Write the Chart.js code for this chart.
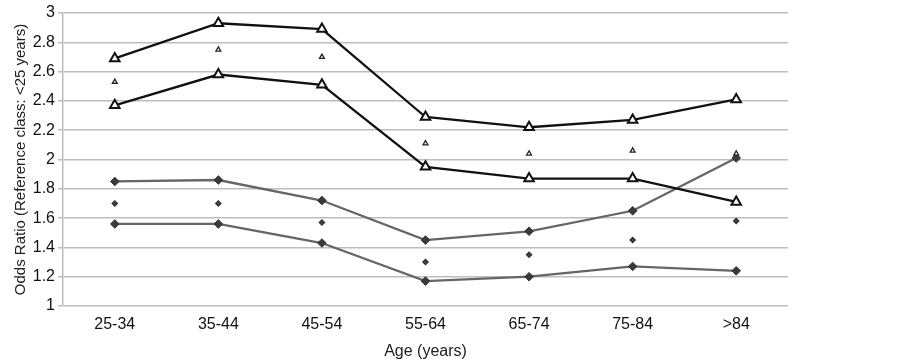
<!DOCTYPE html>
<html>
<head>
<meta charset="utf-8">
<script src="https://cdn.jsdelivr.net/npm/chart.js@4/dist/chart.umd.min.js"></script>
<style>
  html, body { margin: 0; padding: 0; background: #fff; }
  #wrap { width: 902px; height: 361px; }
</style>
</head>
<body>
<div id="wrap"><canvas id="canvasOdds"></canvas></div>
<script>
var ageGroups = ['25-34', '35-44', '45-54', '55-64', '65-74', '75-84', '>84'];
var yTicks = [1, 1.2, 1.4, 1.6, 1.8, 2, 2.2, 2.4, 2.6, 2.8, 3];

// triangles: upper bound, estimate, lower bound
var triUpper = [2.69, 2.93, 2.89, 2.29, 2.22, 2.27, 2.41];
var triEst   = [2.53, 2.75, 2.70, 2.11, 2.04, 2.06, 2.04];
var triLower = [2.37, 2.58, 2.51, 1.95, 1.87, 1.87, 1.71];

// diamonds: upper bound, estimate, lower bound
var diaUpper = [1.85, 1.86, 1.72, 1.45, 1.51, 1.65, 2.01];
var diaEst   = [1.70, 1.70, 1.57, 1.30, 1.35, 1.45, 1.58];
var diaLower = [1.56, 1.56, 1.43, 1.17, 1.20, 1.27, 1.24];

function bound(data, style, color, fill, r, bw) {
    return {
        data: data,
        borderColor: color,
        borderWidth: 2.3,
        showLine: true,
        pointStyle: style,
        pointRadius: r,
        pointBorderWidth: bw,
        pointBorderColor: color === '#111' ? '#111' : '#333',
        pointBackgroundColor: fill,
        tension: 0
    };
}

function estimate(data, style, r, fill, border) {
    return {
        data: data,
        showLine: false,
        pointStyle: style,
        pointRadius: r,
        pointBorderWidth: 1.3,
        pointBorderColor: border,
        pointBackgroundColor: fill
    };
}

var config = {
    type: 'line',
    data: {
        labels: ageGroups,
        datasets: [
            bound(triUpper, 'triangle', '#111', '#fff', 5.5, 2),
            estimate(triEst, 'triangle', 2.8, '#fff', '#222'),
            bound(triLower, 'triangle', '#111', '#fff', 5.5, 2),
            bound(diaUpper, 'rectRot', '#666', '#3a3a3a', 4.3, 1),
            estimate(diaEst, 'rectRot', 2.6, '#444', '#333'),
            bound(diaLower, 'rectRot', '#666', '#3a3a3a', 4.3, 1)
        ]
    },
    options: {
        animation: false,
        responsive: true,
        maintainAspectRatio: false,
        layout: { padding: { top: 13, right: 114, left: 0, bottom: 0 } },
        scales: {
            x: {
                offset: true,
                grid: { display: false, drawTicks: false },
                border: { display: false },
                ticks: { color: '#111', font: { family: 'Liberation Sans', size: 16 }, padding: 9 },
                title: {
                    display: true,
                    text: 'Age (years)',
                    color: '#222',
                    font: { family: 'Liberation Sans', size: 16 },
                    padding: { top: 1, bottom: 0 }
                },
                afterFit: function (s) { s.height = 55; }
            },
            y: {
                min: 1,
                max: 3,
                afterBuildTicks: function (s) { s.ticks = yTicks.map(function (v) { return { value: v }; }); },
                grid: { color: '#bdbdbd', lineWidth: 1.5, tickLength: 5 },
                border: { color: '#bdbdbd', width: 1.5 },
                ticks: {
                    color: '#111',
                    font: { family: 'Liberation Sans', size: 16 },
                    padding: 3,
                    callback: function (v) { return String(Math.round(v * 10) / 10); }
                },
                title: {
                    display: true,
                    text: 'Odds Ratio (Reference class: <25 years)',
                    color: '#222',
                    font: { family: 'Liberation Sans', size: 15 },
                    padding: { top: 12, bottom: 0 }
                },
                afterFit: function (s) { s.width = 63; }
            }
        },
        plugins: {
            legend: { display: false },
            tooltip: { enabled: false },
            title: { display: false }
        }
    }
};

new Chart(document.getElementById('canvasOdds').getContext('2d'), config);
</script>
</body>
</html>
